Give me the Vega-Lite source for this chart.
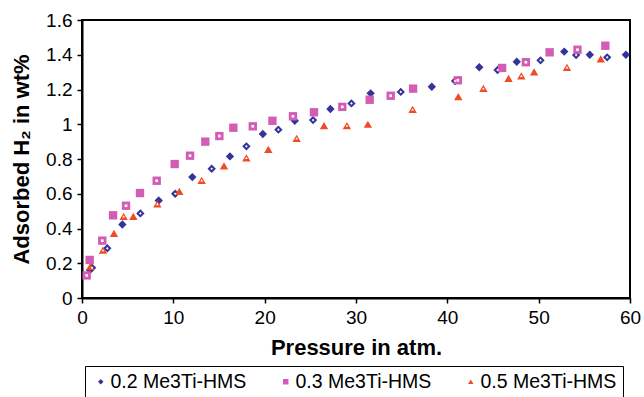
{
  "$schema": "https://vega.github.io/schema/vega-lite/v6.json",
  "width": 548,
  "height": 278,
  "autosize": "none",
  "padding": {"left": 82, "top": 20, "right": 14, "bottom": 99},
  "background": "white",
  "config": {
    "font": "Liberation Sans",
    "view": {"stroke": "black", "strokeWidth": 2},
    "axis": {"grid": false, "domainColor": "black", "domainWidth": 2, "tickColor": "black", "tickWidth": 1.5, "tickSize": 5, "labelFont": "Liberation Sans", "labelFontSize": 19, "labelColor": "black", "titleFont": "Liberation Sans", "titleFontSize": 22, "titleFontWeight": "bold", "titleColor": "black"}
  },
  "data": {"values": [
    {"series": "0.2 Me3Ti-HMS", "run": "A", "p": 0.88, "h2": 0.161},
    {"series": "0.2 Me3Ti-HMS", "run": "B", "p": 1.1, "h2": 0.174},
    {"series": "0.2 Me3Ti-HMS", "run": "B", "p": 2.77, "h2": 0.286},
    {"series": "0.2 Me3Ti-HMS", "run": "A", "p": 4.42, "h2": 0.423},
    {"series": "0.2 Me3Ti-HMS", "run": "B", "p": 6.39, "h2": 0.487},
    {"series": "0.2 Me3Ti-HMS", "run": "A", "p": 8.4, "h2": 0.561},
    {"series": "0.2 Me3Ti-HMS", "run": "B", "p": 10.2, "h2": 0.6},
    {"series": "0.2 Me3Ti-HMS", "run": "A", "p": 12.08, "h2": 0.696},
    {"series": "0.2 Me3Ti-HMS", "run": "B", "p": 14.2, "h2": 0.744},
    {"series": "0.2 Me3Ti-HMS", "run": "A", "p": 16.2, "h2": 0.815},
    {"series": "0.2 Me3Ti-HMS", "run": "B", "p": 18.0, "h2": 0.873},
    {"series": "0.2 Me3Ti-HMS", "run": "A", "p": 19.8, "h2": 0.944},
    {"series": "0.2 Me3Ti-HMS", "run": "B", "p": 21.5, "h2": 0.969},
    {"series": "0.2 Me3Ti-HMS", "run": "A", "p": 23.3, "h2": 1.02},
    {"series": "0.2 Me3Ti-HMS", "run": "B", "p": 25.3, "h2": 1.024},
    {"series": "0.2 Me3Ti-HMS", "run": "A", "p": 27.2, "h2": 1.088},
    {"series": "0.2 Me3Ti-HMS", "run": "B", "p": 29.5, "h2": 1.12},
    {"series": "0.2 Me3Ti-HMS", "run": "A", "p": 31.6, "h2": 1.178},
    {"series": "0.2 Me3Ti-HMS", "run": "B", "p": 34.9, "h2": 1.186},
    {"series": "0.2 Me3Ti-HMS", "run": "A", "p": 38.3, "h2": 1.216},
    {"series": "0.2 Me3Ti-HMS", "run": "B", "p": 40.85, "h2": 1.249},
    {"series": "0.2 Me3Ti-HMS", "run": "A", "p": 43.5, "h2": 1.328},
    {"series": "0.2 Me3Ti-HMS", "run": "B", "p": 45.5, "h2": 1.312},
    {"series": "0.2 Me3Ti-HMS", "run": "A", "p": 47.6, "h2": 1.36},
    {"series": "0.2 Me3Ti-HMS", "run": "B", "p": 50.2, "h2": 1.368},
    {"series": "0.2 Me3Ti-HMS", "run": "A", "p": 52.8, "h2": 1.418},
    {"series": "0.2 Me3Ti-HMS", "run": "B", "p": 54.1, "h2": 1.398},
    {"series": "0.2 Me3Ti-HMS", "run": "A", "p": 55.6, "h2": 1.4},
    {"series": "0.2 Me3Ti-HMS", "run": "B", "p": 57.5, "h2": 1.385},
    {"series": "0.2 Me3Ti-HMS", "run": "A", "p": 59.55, "h2": 1.4},
    {"series": "0.3 Me3Ti-HMS", "run": "B", "p": 0.51, "h2": 0.13},
    {"series": "0.3 Me3Ti-HMS", "run": "A", "p": 0.84, "h2": 0.219},
    {"series": "0.3 Me3Ti-HMS", "run": "B", "p": 2.22, "h2": 0.33},
    {"series": "0.3 Me3Ti-HMS", "run": "A", "p": 3.4, "h2": 0.476},
    {"series": "0.3 Me3Ti-HMS", "run": "B", "p": 4.82, "h2": 0.531},
    {"series": "0.3 Me3Ti-HMS", "run": "A", "p": 6.35, "h2": 0.604},
    {"series": "0.3 Me3Ti-HMS", "run": "B", "p": 8.18, "h2": 0.675},
    {"series": "0.3 Me3Ti-HMS", "run": "A", "p": 10.15, "h2": 0.771},
    {"series": "0.3 Me3Ti-HMS", "run": "B", "p": 11.83, "h2": 0.819},
    {"series": "0.3 Me3Ti-HMS", "run": "A", "p": 13.5, "h2": 0.9},
    {"series": "0.3 Me3Ti-HMS", "run": "B", "p": 15.04, "h2": 0.932},
    {"series": "0.3 Me3Ti-HMS", "run": "A", "p": 16.57, "h2": 0.98},
    {"series": "0.3 Me3Ti-HMS", "run": "B", "p": 18.7, "h2": 0.988},
    {"series": "0.3 Me3Ti-HMS", "run": "A", "p": 20.85, "h2": 1.02},
    {"series": "0.3 Me3Ti-HMS", "run": "B", "p": 23.1, "h2": 1.046},
    {"series": "0.3 Me3Ti-HMS", "run": "A", "p": 25.4, "h2": 1.069},
    {"series": "0.3 Me3Ti-HMS", "run": "B", "p": 28.5, "h2": 1.1},
    {"series": "0.3 Me3Ti-HMS", "run": "A", "p": 31.5, "h2": 1.141},
    {"series": "0.3 Me3Ti-HMS", "run": "B", "p": 33.8, "h2": 1.164},
    {"series": "0.3 Me3Ti-HMS", "run": "A", "p": 36.25, "h2": 1.205},
    {"series": "0.3 Me3Ti-HMS", "run": "B", "p": 41.15, "h2": 1.253},
    {"series": "0.3 Me3Ti-HMS", "run": "A", "p": 46.0, "h2": 1.324},
    {"series": "0.3 Me3Ti-HMS", "run": "B", "p": 48.6, "h2": 1.357},
    {"series": "0.3 Me3Ti-HMS", "run": "A", "p": 51.2, "h2": 1.414},
    {"series": "0.3 Me3Ti-HMS", "run": "B", "p": 54.25, "h2": 1.429},
    {"series": "0.3 Me3Ti-HMS", "run": "A", "p": 57.3, "h2": 1.452},
    {"series": "0.5 Me3Ti-HMS", "run": "A", "p": 0.9, "h2": 0.18},
    {"series": "0.5 Me3Ti-HMS", "run": "B", "p": 2.3, "h2": 0.276},
    {"series": "0.5 Me3Ti-HMS", "run": "A", "p": 3.5, "h2": 0.372},
    {"series": "0.5 Me3Ti-HMS", "run": "B", "p": 4.56, "h2": 0.47},
    {"series": "0.5 Me3Ti-HMS", "run": "A", "p": 5.62, "h2": 0.47},
    {"series": "0.5 Me3Ti-HMS", "run": "B", "p": 8.25, "h2": 0.541},
    {"series": "0.5 Me3Ti-HMS", "run": "A", "p": 10.66, "h2": 0.614},
    {"series": "0.5 Me3Ti-HMS", "run": "B", "p": 13.1, "h2": 0.677},
    {"series": "0.5 Me3Ti-HMS", "run": "A", "p": 15.55, "h2": 0.76},
    {"series": "0.5 Me3Ti-HMS", "run": "B", "p": 18.0, "h2": 0.807},
    {"series": "0.5 Me3Ti-HMS", "run": "A", "p": 20.4, "h2": 0.856},
    {"series": "0.5 Me3Ti-HMS", "run": "B", "p": 23.5, "h2": 0.919},
    {"series": "0.5 Me3Ti-HMS", "run": "A", "p": 26.5, "h2": 0.992},
    {"series": "0.5 Me3Ti-HMS", "run": "B", "p": 29.0, "h2": 0.992},
    {"series": "0.5 Me3Ti-HMS", "run": "A", "p": 31.3, "h2": 1.0},
    {"series": "0.5 Me3Ti-HMS", "run": "B", "p": 36.2, "h2": 1.086},
    {"series": "0.5 Me3Ti-HMS", "run": "A", "p": 41.2, "h2": 1.159},
    {"series": "0.5 Me3Ti-HMS", "run": "B", "p": 43.95, "h2": 1.207},
    {"series": "0.5 Me3Ti-HMS", "run": "A", "p": 46.7, "h2": 1.264},
    {"series": "0.5 Me3Ti-HMS", "run": "B", "p": 48.1, "h2": 1.278},
    {"series": "0.5 Me3Ti-HMS", "run": "A", "p": 49.5, "h2": 1.302},
    {"series": "0.5 Me3Ti-HMS", "run": "B", "p": 53.1, "h2": 1.328},
    {"series": "0.5 Me3Ti-HMS", "run": "A", "p": 56.8, "h2": 1.376}
  ]},
  "encoding": {
    "x": {"field": "p", "type": "quantitative", "scale": {"domain": [0, 60], "nice": false}, "axis": {"values": [0, 10, 20, 30, 40, 50, 60], "title": "Pressure in atm.", "labelPadding": 5, "titlePadding": 10, "labelFlush": false}},
    "y": {"field": "h2", "type": "quantitative", "scale": {"domain": [0, 1.6], "nice": false}, "axis": {"values": [0, 0.2, 0.4, 0.6, 0.8, 1, 1.2, 1.4, 1.6], "format": "~g", "title": "Adsorbed H₂ in wt%", "labelPadding": 5, "titlePadding": 12, "labelFlush": false}}
  },
  "layer": [
    {
      "mark": {"type": "point", "filled": true, "opacity": 1, "size": 70},
      "encoding": {
        "color": {"field": "series", "type": "nominal", "scale": {"domain": ["0.2 Me3Ti-HMS", "0.3 Me3Ti-HMS", "0.5 Me3Ti-HMS"], "range": ["#333399", "#D35DB5", "#F04B23"]}, "legend": {"title": null, "orient": "none", "legendX": 3, "legendY": 346, "direction": "horizontal", "labelFontSize": 19.5, "labelFont": "Liberation Sans", "labelColor": "black", "symbolSize": 30, "labelOffset": 0, "columnPadding": 29, "padding": 6, "strokeColor": "black", "symbolStrokeWidth": 0, "labelLimit": 300, "gridAlign": "none"}},
        "shape": {"field": "series", "type": "nominal", "scale": {"domain": ["0.2 Me3Ti-HMS", "0.3 Me3Ti-HMS", "0.5 Me3Ti-HMS"], "range": ["diamond", "square", "triangle-up"]}, "legend": null}
      }
    },
    {
      "transform": [{"filter": "datum.run === 'B'"}],
      "mark": {"type": "point", "filled": true, "opacity": 1, "size": 7, "color": "white"},
      "encoding": {
        "shape": {"field": "series", "type": "nominal", "scale": {"domain": ["0.2 Me3Ti-HMS", "0.3 Me3Ti-HMS", "0.5 Me3Ti-HMS"], "range": ["diamond", "square", "triangle-up"]}, "legend": null}
      }
    }
  ]
}
